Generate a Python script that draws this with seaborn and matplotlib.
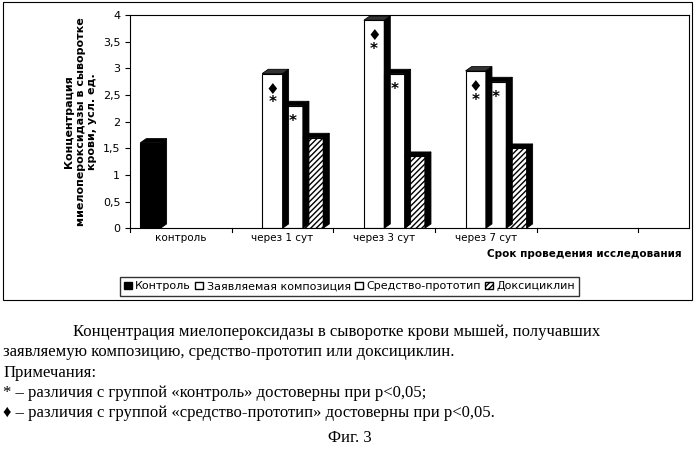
import matplotlib
matplotlib.use("Agg")
import matplotlib.pyplot as plt
import seaborn as sns
import pandas as pd
from matplotlib.patches import Patch, Polygon, Rectangle

categories = ["контроль", "через 1 сут", "через 3 сут", "через 7 сут", " "]
series = ["Контроль", "Заявляемая композиция", "Средство-прототип", "Доксициклин"]
values = {
    "Контроль": [1.6, 0, 0, 0, 0],
    "Заявляемая композиция": [0, 2.9, 3.9, 2.95, 0],
    "Средство-прототип": [0, 2.3, 2.9, 2.75, 0],
    "Доксициклин": [0, 1.7, 1.35, 1.5, 0],
}
marks = {("Заявляемая композиция", 1): "♦\n*", ("Заявляемая композиция", 2): "♦\n*",
         ("Заявляемая композиция", 3): "♦\n*", ("Средство-прототип", 1): "*",
         ("Средство-прототип", 2): "*", ("Средство-прототип", 3): "*"}
yticks = [0, 0.5, 1, 1.5, 2, 2.5, 3, 3.5, 4]
ytick_labels = ["0", "0,5", "1", "1,5", "2", "2,5", "3", "3,5", "4"]

rows = [(c, s, values[s][i]) for s in series for i, c in enumerate(categories)]
df = pd.DataFrame(rows, columns=["cat", "ser", "val"])

fig = plt.figure(figsize=(6.99, 4.51), dpi=100)
fig.patches.append(Rectangle((0.004, 0.335), 0.986, 0.66, transform=fig.transFigure,
                             fill=False, edgecolor="black", lw=0.8))
ax = fig.add_axes([0.186, 0.494, 0.80, 0.473])
sns.barplot(data=df, x="cat", y="val", hue="ser", order=categories, hue_order=series,
            ax=ax, width=0.8, legend=False, edgecolor="black", linewidth=0.8)
fills = {"Контроль": "black", "Заявляемая композиция": "white",
         "Средство-прототип": "white", "Доксициклин": "white"}
for s, cont in zip(series, ax.containers):
    for i, bar in enumerate(cont):
        h = bar.get_height()
        bar.set_facecolor(fills[s])
        if s == "Доксициклин":
            bar.set_hatch("//////")
        if h <= 0:
            bar.set_visible(False)
            continue
        x0, w = bar.get_x(), bar.get_width()
        dx, dy = w * 0.3, 0.08
        side = Polygon([(x0 + w, 0), (x0 + w + dx, dy), (x0 + w + dx, h + dy), (x0 + w, h)],
                       closed=True, facecolor="black", edgecolor="black", lw=0.6, zorder=1)
        top = Polygon([(x0, h), (x0 + dx, h + dy), (x0 + w + dx, h + dy), (x0 + w, h)],
                      closed=True, facecolor="black" if s != "Заявляемая композиция" else "#333",
                      edgecolor="black", lw=0.6, zorder=1)
        ax.add_patch(side); ax.add_patch(top)
        if (s, i) in marks:
            ax.text(x0 + w / 2, h - 0.15, marks[(s, i)], ha="center", va="top",
                    fontsize=11, fontweight="bold", linespacing=0.9)
ax.set_ylim(0, 4)
ax.set_xlim(-0.5, 5.0)
ax.set_yticks(yticks)
ax.set_yticklabels(ytick_labels, fontsize=8)
ax.tick_params(axis="x", labelsize=7.5, length=0)
for t in range(6):
    ax.plot([t - 0.5, t - 0.5], [0, -0.08], color="black", lw=0.8, clip_on=False)
ax.set_xlabel("")
ax.set_ylabel("Концентрация\nмиелопероксидазы в сыворотке\nкрови, усл. ед.",
              fontsize=8, fontweight="bold")
for sp in ax.spines.values():
    sp.set_linewidth(0.8)
fig.text(0.975, 0.43, "Срок проведения исследования", ha="right", fontsize=7.5, fontweight="bold")

handles = [Patch(facecolor="black", edgecolor="black"),
           Patch(facecolor="white", edgecolor="black"),
           Patch(facecolor="white", edgecolor="black"),
           Patch(facecolor="white", edgecolor="black", hatch="//////")]
fig.legend(handles, series, loc="center", bbox_to_anchor=(0.5, 0.365), ncol=4, fontsize=8,
           frameon=True, edgecolor="black", fancybox=False, handlelength=0.7,
           handletextpad=0.3, columnspacing=0.4)
sf = "Liberation Serif"
fs = 12
fig.text(0.105, 0.255, "Концентрация миелопероксидазы в сыворотке крови мышей, получавших",
         fontsize=fs, family=sf)
fig.text(0.005, 0.21, "заявляемую композицию, средство-прототип или доксициклин.", fontsize=fs, family=sf)
fig.text(0.005, 0.165, "Примечания:", fontsize=fs, family=sf)
fig.text(0.005, 0.12, "* – различия с группой «контроль» достоверны при р<0,05;", fontsize=fs, family=sf)
fig.text(0.005, 0.075, "♦ – различия с группой «средство-прототип» достоверны при р<0,05.",
         fontsize=fs, family=sf)
fig.text(0.5, 0.02, "Фиг. 3", ha="center", fontsize=fs, family=sf)
fig.savefig("out.png", dpi=100)
